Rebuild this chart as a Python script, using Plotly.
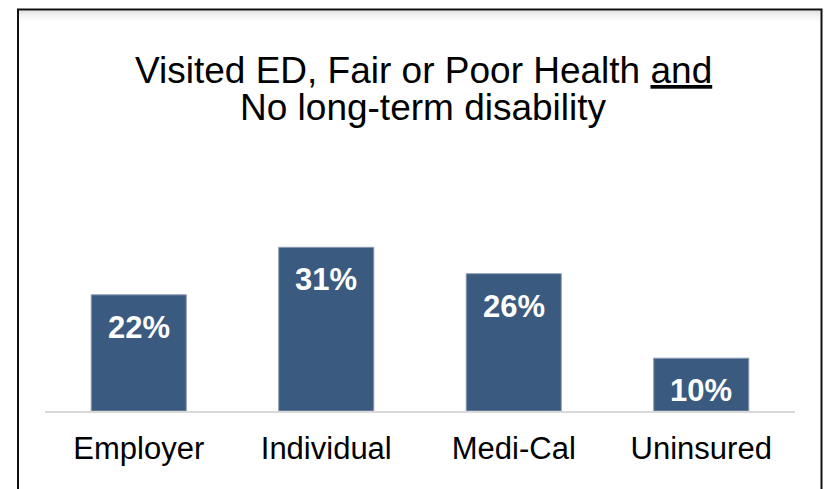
import plotly.graph_objects as go

# Share of adults who visited the ED, by coverage type
categories = ["Employer", "Individual", "Medi-Cal", "Uninsured"]
values = [22, 31, 26, 10]
labels = ["22%", "31%", "26%", "10%"]

title_line1 = "Visited ED, Fair or Poor Health <u>and</u>"
title_line2 = "No long-term disability"

W, H = 824, 489
ML, MR, MT, MB = 45, 29, 130, 78
PW, PH = W - ML - MR, H - MT - MB
PX_PER_PCT = 5.28
FONT = "Liberation Sans, Arial, sans-serif"
BAR_COLOR = "#3A5A7F"


def px_x(px):
    return (px - ML) / PW


def px_y(py):
    return (H - MB - py) / PH


fig = go.Figure(
    go.Bar(
        x=categories,
        y=values,
        width=0.507,
        marker=dict(color=BAR_COLOR, line=dict(color="#8A9BB2", width=1)),
        hoverinfo="skip",
    )
)

annotations = [
    dict(x=c, y=v, xref="x", yref="y", text=f"<b>{t}</b>", showarrow=False,
         yanchor="top", yshift=-13,
         font=dict(family=FONT, size=31, color="white"))
    for c, v, t in zip(categories, values, labels)
]
annotations += [
    dict(x=px_x(423), y=px_y(92), xref="paper", yref="paper", text=title_line1,
         showarrow=False, yanchor="bottom", xanchor="center", borderpad=0,
         font=dict(family=FONT, size=37, color="black")),
    dict(x=px_x(423), y=px_y(129), xref="paper", yref="paper", text=title_line2,
         showarrow=False, yanchor="bottom", xanchor="center", borderpad=0,
         font=dict(family=FONT, size=37, color="black")),
]

# Outer frame with a soft inner shadow along the top edge
shapes = []
for i, a in enumerate([0.10, 0.07, 0.05, 0.03, 0.015]):
    y = 11.5 + i * 2
    shapes.append(dict(type="line", xref="paper", yref="paper",
                       x0=px_x(19), x1=px_x(820.5), y0=px_y(y), y1=px_y(y),
                       line=dict(color=f"rgba(0,0,0,{a})", width=2)))
shapes.append(dict(type="rect", xref="paper", yref="paper",
                   x0=px_x(18), x1=px_x(821.5), y0=px_y(500), y1=px_y(9.5),
                   line=dict(color="#111111", width=2), fillcolor="rgba(0,0,0,0)"))

fig.update_layout(
    width=W, height=H,
    margin=dict(l=ML, r=MR, t=MT, b=MB, pad=0),
    paper_bgcolor="white", plot_bgcolor="white",
    showlegend=False,
    annotations=annotations,
    shapes=shapes,
    xaxis=dict(showline=True, linecolor="#D9D9D9", linewidth=2,
               showgrid=False, ticks="outside", ticklen=9,
               tickcolor="rgba(0,0,0,0)",
               tickfont=dict(family=FONT, size=31, color="black"),
               fixedrange=True),
    yaxis=dict(range=[0, PH / PX_PER_PCT], visible=False, fixedrange=True),
)

fig.write_html("out.html", config={"displayModeBar": False})
